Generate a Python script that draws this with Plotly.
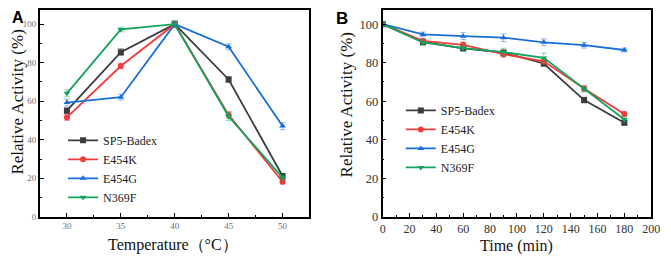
import plotly.graph_objects as go

# ---------------- data ----------------
series_names = ["SP5-Badex", "E454K", "E454G", "N369F"]

temp_c = [30, 35, 40, 45, 50]
temp_sp5 = [55.1, 85.5, 100.0, 71.3, 21.2]
temp_e454k = [51.6, 78.3, 100.0, 52.9, 18.2]
temp_e454g = [59.3, 62.1, 100.0, 88.3, 47.1]
temp_n369f = [64.1, 97.3, 100.0, 52.1, 20.4]
temp_err_sp5 = [1.5, 1.8, 1.8, 1.5, 1.2]
temp_err_e454k = [1.5, 1.5, 1.5, 1.8, 1.2]
temp_err_e454g = [1.8, 1.5, 1.5, 1.5, 1.8]
temp_err_n369f = [1.8, 1.2, 1.2, 2.0, 1.2]

time_min = [0, 30, 60, 90, 120, 150, 180]
time_sp5 = [100.0, 90.8, 87.5, 85.2, 79.6, 60.6, 48.8]
time_e454k = [100.0, 91.3, 89.3, 84.4, 80.7, 66.6, 53.4]
time_e454g = [100.0, 94.7, 93.8, 93.0, 90.6, 89.1, 86.6]
time_n369f = [100.0, 90.5, 87.6, 85.5, 82.5, 66.3, 50.5]
time_err_sp5 = [1.2, 1.5, 1.5, 1.5, 1.5, 1.5, 1.2]
time_err_e454k = [1.2, 1.2, 1.5, 1.5, 1.5, 1.5, 1.2]
time_err_e454g = [1.2, 1.2, 1.8, 2.0, 1.8, 1.5, 1.0]
time_err_n369f = [1.2, 1.5, 1.5, 2.0, 2.5, 1.5, 1.2]

x_ticks_temp = [30, 35, 40, 45, 50]
x_ticks_time = [0, 20, 40, 60, 80, 100, 120, 140, 160, 180, 200]
y_ticks = [0, 20, 40, 60, 80, 100]

# ---------------- style ----------------
colors = ["#3c3c3c", "#f23c3c", "#1a6ed8", "#12a35c"]
err_colors = ["rgba(60,60,60,0.45)", "rgba(242,60,60,0.45)",
              "rgba(26,110,216,0.45)", "rgba(18,163,92,0.45)"]
symbols = ["square", "circle", "triangle-up", "triangle-down"]
serif = "Liberation Serif, Times New Roman, serif"

# the page body has an 8px margin, so the figure is sized to the visible area
OFF = 8
W, H = 671 - OFF, 267 - OFF


def px(x):  # page x pixel -> paper fraction
    return (x - OFF) / W


def py(y):  # page y pixel -> paper fraction (from bottom)
    return 1 - (y - OFF) / H


y_bottom_px, y100_px = 222.3, 22.7
unit_px = (y_bottom_px - y100_px) / 100.0
y_top_val = (y_bottom_px - OFF) / unit_px  # plot top at the visible page top

fig = go.Figure()

temp_vals = [temp_sp5, temp_e454k, temp_e454g, temp_n369f]
temp_errs = [temp_err_sp5, temp_err_e454k, temp_err_e454g, temp_err_n369f]
time_vals = [time_sp5, time_e454k, time_e454g, time_n369f]
time_errs = [time_err_sp5, time_err_e454k, time_err_e454g, time_err_n369f]

for i, name in enumerate(series_names):
    fig.add_trace(go.Scatter(
        x=temp_c, y=temp_vals[i], name=name, mode="lines+markers",
        line=dict(color=colors[i], width=1.8),
        marker=dict(symbol=symbols[i], size=6, color=colors[i]),
        error_y=dict(type="data", array=temp_errs[i], visible=True,
                     color=err_colors[i], thickness=1, width=3),
        xaxis="x", yaxis="y", legend="legend",
    ))
for i, name in enumerate(series_names):
    fig.add_trace(go.Scatter(
        x=time_min, y=time_vals[i], name=name, mode="lines+markers",
        line=dict(color=colors[i], width=1.8),
        marker=dict(symbol=symbols[i], size=6, color=colors[i]),
        error_y=dict(type="data", array=time_errs[i], visible=True,
                     color=err_colors[i], thickness=1, width=3),
        xaxis="x2", yaxis="y2", legend="legend2",
    ))

ax_common = dict(showline=True, linecolor="black", linewidth=1.6, mirror=True,
                 ticks="inside", ticklen=4, tickwidth=1.3, tickcolor="black",
                 showgrid=False, zeroline=False)
y_dom = [py(y_bottom_px), 1.0]

fig.update_layout(
    width=W, height=H,
    margin=dict(l=0, r=0, t=0, b=0),
    paper_bgcolor="white", plot_bgcolor="white",
    xaxis=dict(domain=[px(37.5), px(312)], range=[27.5, 52.5],
               tickvals=x_ticks_temp,
               minor=dict(ticks="inside", ticklen=2, dtick=2.5, tick0=27.5, tickcolor="black"),
               tickfont=dict(family=serif, size=9, color="#707070"),
               anchor="y", **ax_common),
    yaxis=dict(domain=y_dom, range=[0, y_top_val],
               tickvals=y_ticks,
               minor=dict(ticks="inside", ticklen=2, dtick=10, tickcolor="black"),
               tickfont=dict(family=serif, size=9, color="#707070"),
               anchor="x", **ax_common),
    xaxis2=dict(domain=[px(386.5), px(660)], range=[0, 200],
                tickvals=x_ticks_time,
                minor=dict(ticks="inside", ticklen=2, dtick=10, tickcolor="black"),
                tickfont=dict(family=serif, size=12, color="#333333"),
                anchor="y2", **ax_common),
    yaxis2=dict(domain=y_dom, range=[0, y_top_val],
                tickvals=y_ticks,
                minor=dict(ticks="inside", ticklen=2, dtick=10, tickcolor="black"),
                tickfont=dict(family=serif, size=12.5, color="#333333"),
                anchor="x2", **ax_common),
    legend=dict(x=px(61), y=py(128), xanchor="left", yanchor="top",
                bgcolor="rgba(0,0,0,0)", font=dict(family=serif, size=12, color="#222"),
                itemwidth=30, tracegroupgap=0),
    legend2=dict(x=px(405), y=py(97), xanchor="left", yanchor="top",
                 bgcolor="rgba(0,0,0,0)", font=dict(family=serif, size=12, color="#222"),
                 itemwidth=30, tracegroupgap=0),
    showlegend=True,
)

annotations = [
    dict(text="Relative Activity (%)", x=px(15), y=py(103), textangle=-90,
         font=dict(family=serif, size=17, color="#111")),
    dict(text="Relative Activity (%)", x=px(350), y=py(106), textangle=-90,
         font=dict(family=serif, size=17, color="#111")),
    dict(text="Temperature（°C）", x=px(173), y=py(251),
         font=dict(family=serif, size=16, color="#111")),
    dict(text="Time (min)", x=px(523), y=py(252),
         font=dict(family=serif, size=16, color="#111")),
    dict(text="<b>A</b>", x=0, y=1, xanchor="left", yanchor="top", yshift=3, xshift=-1,
         font=dict(family="Liberation Sans, Arial, sans-serif", size=16, color="black")),
    dict(text="<b>B</b>", x=px(345), y=1, xanchor="center", yanchor="top", yshift=3,
         font=dict(family="Liberation Sans, Arial, sans-serif", size=17, color="black")),
]
for a in annotations:
    a.setdefault("xanchor", "center")
    a.setdefault("yanchor", "middle")
    a.update(xref="paper", yref="paper", showarrow=False)
fig.update_layout(annotations=annotations)

fig.write_html("out.html")
